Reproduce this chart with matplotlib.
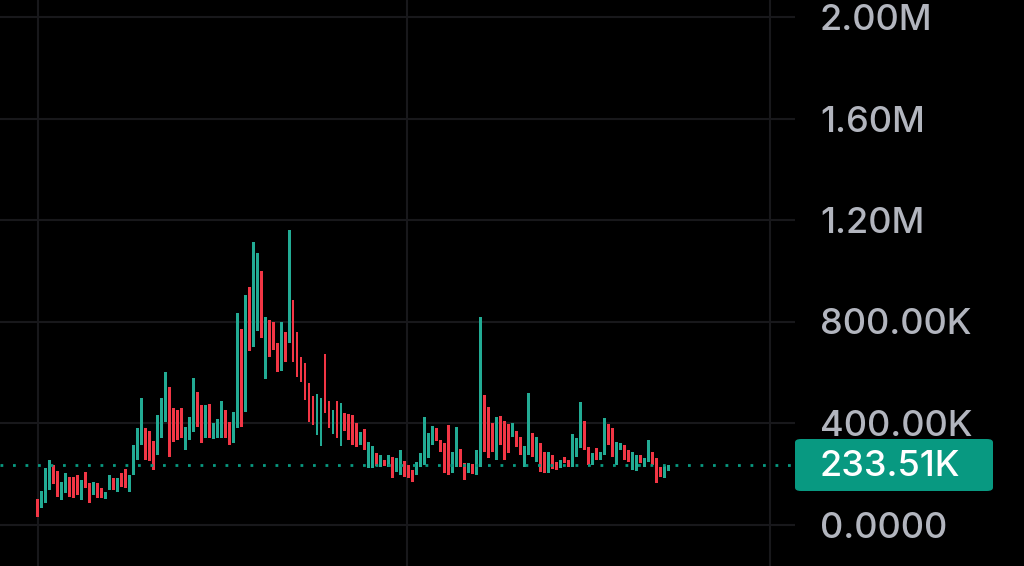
import matplotlib
matplotlib.use("Agg")
import matplotlib.pyplot as plt
from matplotlib.patches import FancyBboxPatch

# candle bodies in thousands (K)
opens = [100, 65, 85, 136, 234, 211, 97, 124, 187, 187, 195, 97, 207, 164, 116, 164, 144, 100, 136, 183,
         128, 203, 219, 128, 195, 254, 313, 380, 368, 329, 274, 341, 404, 542, 459, 451, 459, 294, 333, 364,
         522, 471, 341, 475, 337, 341, 341, 451, 404, 321, 380, 770, 443, 936, 700, 762, 999, 573, 806, 798,
         715, 605, 758, 715, 885, 758, 660, 636, 557, 506, 353, 309, 672, 487, 357, 487, 309, 439, 435, 431,
         400, 313, 376, 223, 223, 282, 227, 254, 227, 266, 207, 195, 250, 234, 215, 195, 227, 234, 262, 313,
         380, 333, 321, 392, 203, 227, 297, 242, 203, 238, 195, 227, 510, 463, 400, 254, 427, 408, 396, 345,
         368, 345, 227, 274, 361, 246, 321, 286, 203, 274, 246, 223, 266, 254, 227, 266, 301, 408, 305, 234,
         301, 254, 274, 396, 380, 234, 294, 313, 294, 215, 211, 274, 227, 246, 286, 262, 227, 183, 211]
closes = [30, 132, 223, 254, 160, 108, 167, 203, 108, 104, 116, 175, 144, 85, 167, 104, 104, 128, 195, 136,
          183, 148, 144, 195, 313, 380, 498, 254, 250, 215, 431, 498, 601, 266, 325, 333, 341, 384, 424, 577,
          384, 321, 471, 341, 400, 416, 487, 341, 313, 443, 833, 384, 904, 684, 1113, 1070, 735, 818, 660, 688,
          601, 798, 640, 1160, 640, 581, 561, 491, 404, 392, 514, 498, 439, 380, 451, 341, 479, 368, 333, 313,
          305, 364, 294, 325, 309, 230, 274, 230, 274, 183, 262, 294, 187, 183, 167, 246, 282, 424, 361, 388,
          329, 286, 203, 195, 286, 384, 227, 175, 242, 199, 294, 818, 286, 262, 286, 424, 313, 254, 282, 400,
          305, 274, 309, 518, 266, 345, 207, 203, 286, 219, 215, 254, 242, 227, 357, 341, 483, 294, 234, 282,
          254, 286, 420, 313, 266, 325, 321, 254, 246, 286, 274, 242, 262, 333, 234, 164, 187, 230, 234]
last_price = 233.51

y_ticks = [0, 400, 800, 1200, 1600, 2000]
y_labels = ["0.0000", "400.00K", "800.00K", "1.20M", "1.60M", "2.00M"]
x_grid = [0, 92.6, 183.5]

up_color = "#22ab94"
down_color = "#f23645"
label_bg = "#089981"
grid_color = "#18181b"
text_color = "#b2b5be"

plt.rcParams["font.family"] = ["Inter", "DejaVu Sans"]

W, H = 1024, 566
fig = plt.figure(figsize=(W / 100, H / 100), dpi=100, facecolor="black")
ax = fig.add_axes([0, 0, 795 / W, 1])
ax.set_facecolor("black")

xs = list(range(len(opens)))
bottoms = [min(o, c) for o, c in zip(opens, closes)]
heights = [max(abs(c - o), 3) for o, c in zip(opens, closes)]
colors = [up_color if c >= o else down_color for o, c in zip(opens, closes)]
ax.bar(xs, heights, bottom=bottoms, width=0.72, color=colors, linewidth=0, zorder=3)

# scale: 0 at y=524.5px, 400K per 101.5px
px_per_k = 101.5 / 400
ax.set_ylim(-(H - 524.5) / px_per_k, 524.5 / px_per_k)
step = 3.99
ax.set_xlim(-37.7 / step, (795 - 37.7) / step)

for v in y_ticks:
    ax.axhline(v, color=grid_color, lw=1.5, zorder=1)
for v in x_grid:
    ax.axvline(v, color=grid_color, lw=1.5, zorder=1)

ax.axhline(last_price, color=label_bg, lw=2, linestyle=(0, (1, 3.5)), zorder=4)

ax.set_xticks([])
ax.yaxis.tick_right()
ax.set_yticks(y_ticks)
ax.set_yticklabels(y_labels, fontweight="medium")
ax.tick_params(axis="y", length=0, pad=18, labelsize=26, labelcolor=text_color)
for s in ax.spines.values():
    s.set_visible(False)

# price label box
box = FancyBboxPatch((795 / W, 1 - 491 / H), 198 / W, 52 / H,
                     boxstyle="round,pad=0,rounding_size=0.006",
                     transform=fig.transFigure, facecolor=label_bg, edgecolor="none", zorder=5)
fig.patches.append(box)
fig.text(820 / W, 1 - 466 / H, "233.51K", color="white", fontsize=26, fontweight="medium",
         ha="left", va="center", zorder=6)

fig.savefig("out.png", dpi=100, facecolor="black")
